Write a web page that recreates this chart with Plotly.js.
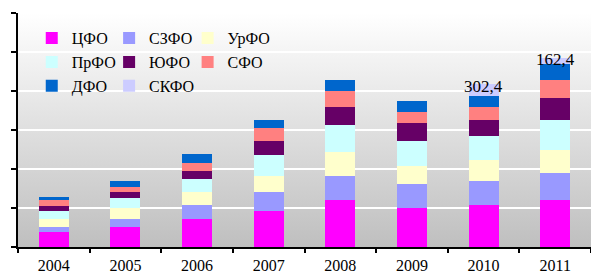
<!DOCTYPE html>
<html>
<head>
<meta charset="utf-8">
<script src="https://cdn.plot.ly/plotly-3.0.1.min.js"></script>
<style>
html,body{margin:0;padding:0;background:#fff;}
#chart{width:591px;height:276px;background:linear-gradient(to bottom,#ffffff,#bfbfbf) no-repeat 18px 13px / 573px 234px, #ffffff;}
</style>
</head>
<body>
<div id="chart"></div>
<script>
const years = ['2004','2005','2006','2007','2008','2009','2010','2011'];
const seriesNames = ['ЦФО','СЗФО','УрФО','ПрФО','ЮФО','СФО','ДФО','СКФО'];
const cfo  = [380, 515, 715, 920, 1200, 1000, 1075, 1200];
const szfo = [130, 205, 360, 485, 615, 615, 615, 690];
const urfo = [205, 280, 335, 420, 615, 460, 540, 590];
const prfo = [205, 255, 335, 530, 690, 640, 615, 770];
const yufo = [130, 155, 205, 360, 460, 460, 410, 565];
const sfo  = [155, 130, 205, 335, 410, 280, 335, 460];
const dfo  = [75, 155, 230, 205, 280, 280, 280, 410];
const skfo = [0, 0, 0, 0, 0, 0, 302.4, 162.4];
const skfoLabels = ['', '', '', '', '', '', '302,4', '162,4'];

const seriesValues = [cfo, szfo, urfo, prfo, yufo, sfo, dfo, skfo];
const colors = ['#ff00ff','#9999ff','#ffffcc','#ccffff','#660066','#ff8080','#0066cc','#ccccff'];
const legendIds = ['legend','legend2','legend3','legend','legend2','legend3','legend','legend2'];
const SERIF = "'Liberation Serif', 'Times New Roman', Times, serif";

const traces = seriesNames.map((name, i) => ({
  type: 'bar',
  name: name,
  x: years,
  y: seriesValues[i],
  marker: {color: colors[i]},
  legend: legendIds[i],
  hoverinfo: 'skip'
}));

const totals = years.map((_, j) => seriesValues.reduce((s, arr) => s + arr[j], 0));
const annotations = [];
years.forEach((yr, j) => {
  if (skfoLabels[j]) {
    annotations.push({
      x: j, y: totals[j], xref: 'x', yref: 'y',
      text: skfoLabels[j], showarrow: false,
      yanchor: 'middle', yshift: -2,
      font: {family: SERIF, size: 17, color: '#000'}
    });
  }
});

const legendFont = {family: SERIF, size: 16, color: '#000'};
const legendBase = {
  orientation: 'v', traceorder: 'normal', bgcolor: 'rgba(0,0,0,0)', borderwidth: 0,
  xref: 'paper', yref: 'paper', xanchor: 'left', yanchor: 'top', y: 0.965, font: legendFont
};

const layout = {
  width: 591, height: 276,
  margin: {l: 18, r: 0, t: 13, b: 29, pad: 0},
  paper_bgcolor: 'rgba(0,0,0,0)',
  plot_bgcolor: 'rgba(0,0,0,0)',
  barmode: 'stack',
  bargap: 0.58,
  showlegend: true,
  legend:  Object.assign({}, legendBase, {x: 0.024}),
  legend2: Object.assign({}, legendBase, {x: 0.159}),
  legend3: Object.assign({}, legendBase, {x: 0.296}),
  xaxis: {
    type: 'category', range: [-0.5, 7.5], autorange: false,
    showline: true, linecolor: '#000', linewidth: 2,
    ticks: 'outside', tickson: 'boundaries', ticklen: 4, tickwidth: 2, tickcolor: '#000',
    ticklabelstandoff: 3,
    tickfont: {family: SERIF, size: 16, color: '#000'},
    showgrid: false, zeroline: false, fixedrange: true
  },
  yaxis: {
    range: [0, 6000], autorange: false, dtick: 1000, tick0: 0,
    showline: true, linecolor: '#000', linewidth: 2,
    ticks: 'outside', ticklen: 5, tickwidth: 2, tickcolor: '#000',
    showticklabels: false,
    showgrid: true, gridcolor: '#ffffff', gridwidth: 1.5,
    zeroline: false, fixedrange: true
  },
  annotations: annotations
};

Plotly.newPlot('chart', traces, layout, {displayModeBar: false, staticPlot: true});
</script>
</body>
</html>
